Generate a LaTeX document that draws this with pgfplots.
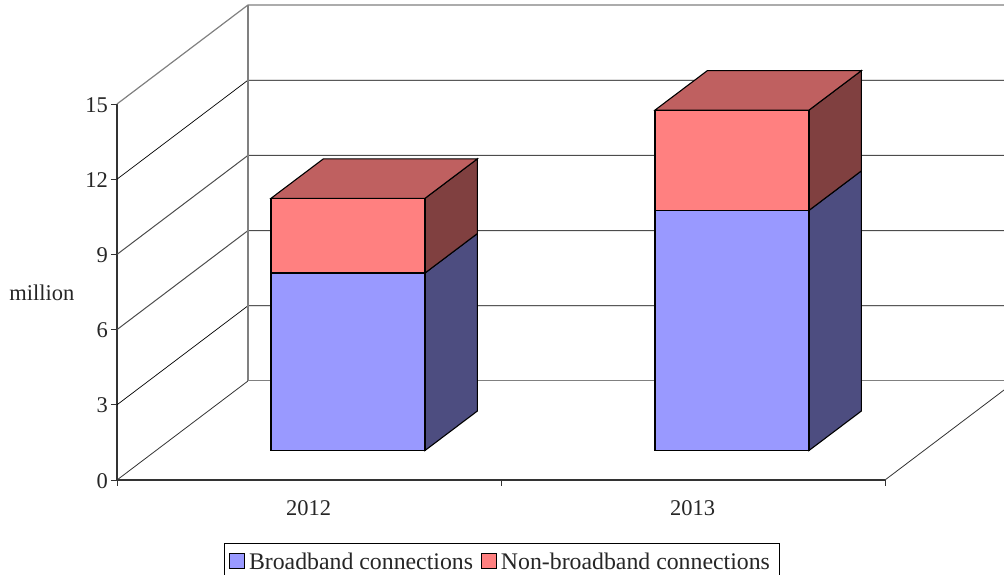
\documentclass[border=0pt]{standalone}
\usepackage{pgfplots}
\usepackage{pgfplotstable}
\usepackage{fontspec}
\setmainfont{Liberation Serif}
\pgfplotsset{compat=1.18}
\definecolor{bluef}{HTML}{9999FF}
\definecolor{reedf}{HTML}{FF8080}
\definecolor{blues}{HTML}{4D4D80}
\definecolor{reeds}{HTML}{804040}
\definecolor{reedt}{HTML}{BF6060}
\definecolor{wallg}{HTML}{808080}
\pgfplotstableread{
x blue red
0.5 7.08 2.98
1.5 9.58 4.0
}\bardata
\newcommand{\chartfont}{\fontsize{22.5}{26}\selectfont}
\newcommand{\legfont}{\fontsize{23.8}{27}\selectfont}
\begin{document}
\begin{tikzpicture}[x=1pt,y=1pt]
\useasboundingbox (0,0) rectangle (1004,575);
% main frame: axes, walls, gridlines
\begin{axis}[
  at={(117pt,95pt)}, anchor=south west,
  scale only axis, width=768pt, height=376pt,
  xmin=0, xmax=2, ymin=0, ymax=15,
  clip=false,
  axis x line*=bottom, axis y line*=left,
  axis line style={draw=black!80, line width=1.4pt, -},
  xtick={0,1,2}, x tick label as interval,
  xticklabels={2012,2013},
  ytick={0,3,6,9,12,15},
  tick align=outside, tickwidth=6pt,
  tick style={black!80, line width=0.8pt},
  /pgf/number format/assume math mode=true,
  tick label style={font=\chartfont, text=black!85},
  x tick label style={yshift=-11pt, xshift=-0.5pt},
  y tick label style={xshift=0.5pt, yshift=-0.7pt},
  ylabel={million},
  every axis y label/.style={at={(axis description cs:-0.0977,0.497)}, anchor=center},
  ylabel style={font=\chartfont, text=black!85},
]
% side-wall diagonals
\addplot[black, line width=0.7pt] coordinates {(0,3) (0.3411,6.95) (2.31,6.95)};
\addplot[black!70, line width=1pt] coordinates {(0,6) (0.3411,9.95) (2.31,9.95)};
\addplot[black!70, line width=1pt] coordinates {(0,9) (0.3411,12.95) (2.31,12.95)};
\addplot[black, line width=0.7pt] coordinates {(0,12) (0.3411,15.95) (2.31,15.95)};
\addplot[wallg, line width=1.2pt] coordinates {(0,15) (0.3411,18.95) (2.31,18.95)};
\addplot[wallg, line width=1.2pt] coordinates {(0.3411,3.95) (0.3411,18.95)};
\addplot[wallg, line width=1pt] coordinates {(0.3411,3.95) (2.31,3.95)};
% floor
\addplot[black!80, line width=0.8pt] coordinates {(0,0) (0.3411,3.95)};
\addplot[black!80, line width=0.8pt] coordinates {(2,0) (2.31,3.59)};
\end{axis}
% side and top faces of the bars
\begin{axis}[
  at={(156pt,124.5pt)}, anchor=south west,
  scale only axis, width=768pt, height=376pt,
  xmin=0, xmax=2, ymin=0, ymax=15,
  clip=false, hide axis,
]
\addplot[draw=black, line width=1.1pt, fill=blues] coordinates {(0.7005,0) (0.837,1.576) (0.837,8.656) (0.7005,7.08)} --cycle;
\addplot[draw=black, line width=1.1pt, fill=reeds] coordinates {(0.7005,7.08) (0.837,8.656) (0.837,11.636) (0.7005,10.06)} --cycle;
\addplot[draw=black, line width=1.1pt, fill=reedt] coordinates {(0.2995,10.06) (0.7005,10.06) (0.837,11.636) (0.436,11.636)} --cycle;
\addplot[draw=black, line width=1.1pt, fill=blues] coordinates {(1.7005,0) (1.837,1.576) (1.837,11.156) (1.7005,9.58)} --cycle;
\addplot[draw=black, line width=1.1pt, fill=reeds] coordinates {(1.7005,9.58) (1.837,11.156) (1.837,15.156) (1.7005,13.58)} --cycle;
\addplot[draw=black, line width=1.1pt, fill=reedt] coordinates {(1.2995,13.58) (1.7005,13.58) (1.837,15.156) (1.436,15.156)} --cycle;
\end{axis}
% front faces and legend
\begin{axis}[
  at={(156pt,124.5pt)}, anchor=south west,
  scale only axis, width=768pt, height=376pt,
  xmin=0, xmax=2, ymin=0, ymax=15,
  clip=false, hide axis,
  ybar stacked, bar width=154pt,
  legend columns=2,
  legend style={
    at={(axis description cs:0.4499,-0.246)}, anchor=north,
    font=\legfont, draw=black, line width=0.9pt, fill=white,
    inner xsep=4.5pt, inner ysep=6pt, row sep=0pt,
    /tikz/every even column/.style={column sep=3pt},
    nodes={inner xsep=4.5pt, inner ysep=4pt, text=black!85},
  },
  legend image code/.code={\draw[#1, line width=0.9pt] (0pt,-6pt) rectangle (15pt,9pt);},
]
\addplot[draw=black, line width=1.1pt, fill=bluef] table[x=x, y=blue] {\bardata};
\addplot[draw=black, line width=1.1pt, fill=reedf] table[x=x, y=red] {\bardata};
\legend{Broadband connections, Non-broadband connections}
\end{axis}
\end{tikzpicture}
\end{document}
